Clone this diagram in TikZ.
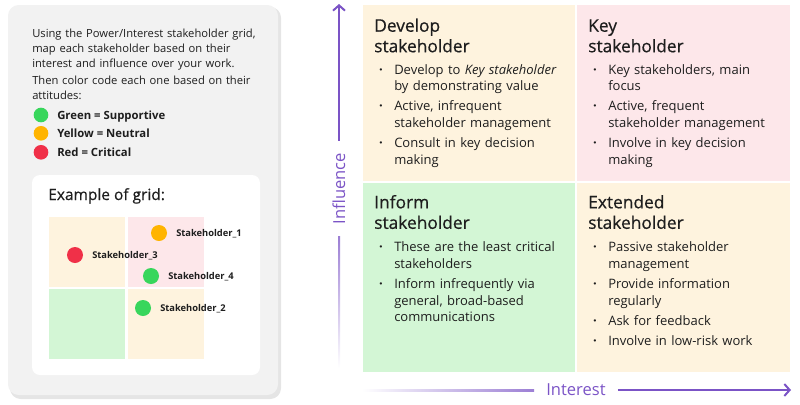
\documentclass[tikz,border=0pt]{standalone}
\usepackage{fontspec}
\setmainfont{Open Sans}
\newfontfamily\headfont[FakeBold=0.6]{Open Sans}
\newfontfamily\midfont[FakeBold=0.35]{Open Sans}
\usetikzlibrary{arrows.meta,calc}

\definecolor{axiscol}{RGB}{123,84,198}
\definecolor{creamq}{RGB}{254,243,222}
\definecolor{pinkq}{RGB}{253,231,234}
\definecolor{greenq}{RGB}{211,246,213}
\definecolor{panelgray}{RGB}{242,242,242}
\definecolor{dotgreen}{RGB}{56,214,92}
\definecolor{dotyellow}{RGB}{255,180,0}
\definecolor{dotred}{RGB}{240,48,72}
\definecolor{inkcol}{RGB}{30,30,30}

\newcommand{\bpt}[1]{\setlength{\parskip}{2.7pt}\hangindent=15pt\hangafter=1%
  \makebox[15pt][l]{\hspace{3.6pt}\textbf{·}}#1\par}

\begin{document}
\begin{tikzpicture}
[x=0.75pt,y=-0.75pt,every node/.style={inner sep=0pt,text=inkcol},
 qtitle/.style={anchor=base west,text width=150pt,align=left,font=\headfont\fontsize{13}{15.4}\selectfont},
 qbody/.style={anchor=base west,text width=150pt,align=left,font=\fontsize{9.75}{12.5}\selectfont},
 ptext/.style={anchor=base west,text width=185pt,align=left,font=\fontsize{8.4}{11.25}\selectfont},
 legtext/.style={anchor=base west,font=\fontsize{8.5}{11}\selectfont\bfseries},
 shtext/.style={anchor=base west,font=\fontsize{7}{9}\selectfont\bfseries},
 dot/.style={circle,minimum size=11pt},
 bigdot/.style={circle,minimum size=12pt},
 axis/.style={draw=axiscol,line width=1.5pt},
 axlabel/.style={text=axiscol,font=\fontsize{12.4}{15}\selectfont,inner sep=9pt}]
\useasboundingbox (0,0) rectangle (800,404);

% left panel
\fill[black!10,rounded corners=8] (10,7) rectangle (281,399);
\fill[panelgray,rounded corners=8] (8,5) rectangle (278,395);
\node[ptext] (intro) at (32,37.7) {Using the Power/Interest stakeholder grid,\newline
  map each stakeholder based on their\newline interest and influence over your work.};
\node[ptext] (then) at (32,84) {Then color code each one based on their\newline attitudes:};
\node[dot,fill=dotgreen] (legG) at (41,115) {};
\node[dot,fill=dotyellow] (legY) at (41,133.3) {};
\node[dot,fill=dotred] (legR) at (41,152.3) {};
\node[legtext] (legGtxt) at (57,119.3) {Green = Supportive};
\node[legtext] (legYtxt) at (57,137.7) {Yellow = Neutral};
\node[legtext] (legRtxt) at (57,156.7) {Red = Critical};

% example grid
\fill[white,rounded corners=6] (32,175) rectangle (260,375);
\node[anchor=base west,font=\midfont\fontsize{11.6}{13}\selectfont] (extitle) at (48,200) {Example of grid:};
\fill[creamq] (49,217) rectangle (125,287);
\fill[pinkq] (128,217) rectangle (204,287);
\fill[greenq] (49,289) rectangle (125,359);
\fill[creamq] (128,289) rectangle (204,359);
\node[bigdot,fill=dotyellow] (s1) at (159,233) {};
\node[bigdot,fill=dotred] (s3) at (75,255) {};
\node[bigdot,fill=dotgreen] (s4) at (151,276) {};
\node[bigdot,fill=dotgreen] (s2) at (143,308) {};
\node[shtext] (s1txt) at (176,236.5) {Stakeholder\_1};
\node[shtext] (s3txt) at (92,258.5) {Stakeholder\_3};
\node[shtext] (s4txt) at (168,279.5) {Stakeholder\_4};
\node[shtext] (s2txt) at (160,311.5) {Stakeholder\_2};

% quadrants
\fill[creamq] (363,5) rectangle (575,181);
\fill[pinkq] (577,5) rectangle (790,181);
\fill[greenq] (363,183) rectangle (575,372);
\fill[creamq] (577,183) rectangle (790,372);

\node[qtitle] (devT) at (374,31.7) {Develop\newline stakeholder};
\node[qbody] (devB) at (374,74) {\bpt{Develop to \textit{Key stakeholder}\newline by demonstrating value}
  \bpt{Active, infrequent\newline stakeholder management}
  \bpt{Consult in key decision\newline making}};
\node[qtitle] (keyT) at (588,31.7) {Key\newline stakeholder};
\node[qbody] (keyB) at (588,74) {\bpt{Key stakeholders, main\newline focus}
  \bpt{Active, frequent\newline stakeholder management}
  \bpt{Involve in key decision\newline making}};
\node[qtitle] (infT) at (374,208.3) {Inform\newline stakeholder};
\node[qbody] (infB) at (374,251.7) {\bpt{These are the least critical\newline stakeholders}
  \bpt{Inform infrequently via\newline general, broad-based\newline communications}};
\node[qtitle] (extT) at (588,208.3) {Extended\newline stakeholder};
\node[qbody] (extB) at (588,251.7) {\bpt{Passive stakeholder\newline management}
  \bpt{Provide information\newline regularly}
  \bpt{Ask for feedback}
  \bpt{Involve in low-risk work}};

% axes
\coordinate (ybot) at (339,368);
\coordinate (ytop) at (339,4);
\node[axlabel,rotate=90] (inflab) at (339,188.5) {Influence};
\draw[axis,-{Straight Barb[length=4pt,width=9pt]}] (inflab.east) -- (ytop);
\shade[bottom color=white,top color=axiscol!75] ($(ybot)+(-1,0)$) rectangle ($(inflab.west)+(1,0)$);
\coordinate (xleft) at (362,390);
\coordinate (xright) at (791,390);
\node[axlabel] (intlab) at (576,390) {Interest};
\draw[axis,-{Straight Barb[length=4pt,width=9pt]}] (intlab.east) -- (xright);
\shade[left color=white,right color=axiscol!75] ($(xleft)+(0,-1)$) rectangle ($(intlab.west)+(0,1)$);
\end{tikzpicture}
\end{document}
